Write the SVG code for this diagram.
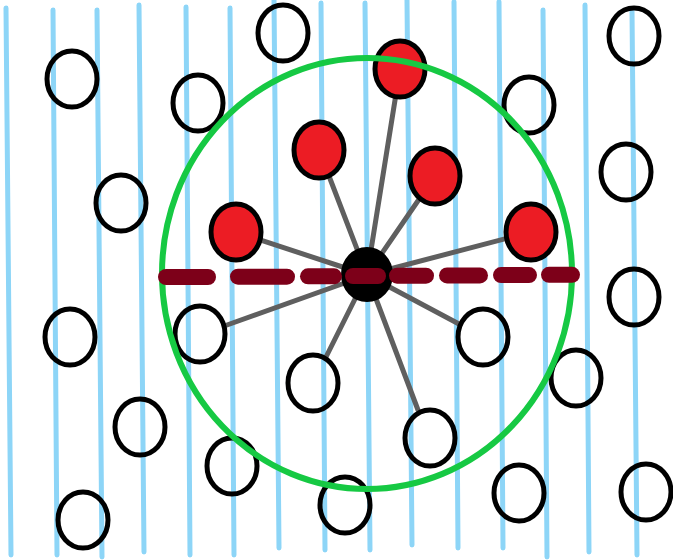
<svg xmlns="http://www.w3.org/2000/svg" width="673" height="560" viewBox="0 0 673 560">
<style>
.bl{stroke:#8dd5f7;stroke-width:5;stroke-linecap:round;fill:none}
.sp{stroke:#5f5f5f;stroke-width:5;stroke-linecap:round;fill:none}
.hc{fill:none;stroke:#000;stroke-width:5}
.rc{fill:#ec1c24;stroke:#000;stroke-width:5}
.dash{stroke:#7d0019;stroke-width:16;stroke-linecap:round;fill:none}
</style>
<rect width="673" height="560" fill="#fff"/>
<g id="field-lines">
<line class="bl" x1="6" y1="8" x2="11" y2="555"/>
<line class="bl" x1="53" y1="10" x2="57" y2="555"/>
<line class="bl" x1="97" y1="10" x2="102" y2="557"/>
<line class="bl" x1="139" y1="5" x2="144" y2="552"/>
<line class="bl" x1="186" y1="7" x2="190" y2="555"/>
<line class="bl" x1="230" y1="8" x2="234" y2="555"/>
<line class="bl" x1="274" y1="0" x2="279" y2="548"/>
<line class="bl" x1="321" y1="3" x2="325" y2="550"/>
<line class="bl" x1="365" y1="3" x2="370" y2="550"/>
<line class="bl" x1="407" y1="0" x2="412" y2="545"/>
<line class="bl" x1="454" y1="2" x2="458" y2="548"/>
<line class="bl" x1="499" y1="2" x2="503" y2="548"/>
<line class="bl" x1="543" y1="10" x2="547" y2="557"/>
<line class="bl" x1="585" y1="5" x2="589" y2="552"/>
<line class="bl" x1="632" y1="10" x2="637" y2="555"/>
</g>
<g id="connectors">
<line class="sp" x1="367" y1="275" x2="400" y2="69"/>
<line class="sp" x1="367" y1="275" x2="319" y2="150"/>
<line class="sp" x1="367" y1="275" x2="435" y2="176"/>
<line class="sp" x1="367" y1="275" x2="531" y2="232"/>
<line class="sp" x1="367" y1="275" x2="236" y2="232"/>
<line class="sp" x1="367" y1="275" x2="227" y2="325"/>
<line class="sp" x1="367" y1="275" x2="326" y2="357"/>
<line class="sp" x1="367" y1="275" x2="459" y2="324"/>
<line class="sp" x1="367" y1="275" x2="418" y2="410"/>
</g>
<g id="hollow-nodes">
<ellipse id="h1" class="hc" cx="72" cy="79" rx="25" ry="28"/>
<ellipse id="h2" class="hc" cx="198" cy="103" rx="25" ry="28"/>
<ellipse id="h3" class="hc" cx="283" cy="33" rx="25" ry="28"/>
<ellipse id="h4" class="hc" cx="121" cy="203" rx="25" ry="28"/>
<ellipse id="h5" class="hc" cx="634" cy="36" rx="25" ry="28"/>
<ellipse id="h6" class="hc" cx="529" cy="105" rx="25" ry="28"/>
<ellipse id="h7" class="hc" cx="626" cy="172" rx="25" ry="28"/>
<ellipse id="h8" class="hc" cx="634" cy="297" rx="25" ry="28"/>
<ellipse id="h9" class="hc" cx="70" cy="337" rx="25" ry="28"/>
<ellipse id="h10" class="hc" cx="140" cy="427" rx="25" ry="28"/>
<ellipse id="h11" class="hc" cx="83" cy="520" rx="25" ry="28"/>
<ellipse id="h12" class="hc" cx="200" cy="334" rx="25" ry="28"/>
<ellipse id="h13" class="hc" cx="232" cy="466" rx="25" ry="28"/>
<ellipse id="h14" class="hc" cx="313" cy="383" rx="25" ry="28"/>
<ellipse id="h15" class="hc" cx="345" cy="505" rx="25" ry="28"/>
<ellipse id="h16" class="hc" cx="483" cy="337" rx="25" ry="28"/>
<ellipse id="h17" class="hc" cx="576" cy="378" rx="25" ry="28"/>
<ellipse id="h18" class="hc" cx="430" cy="438" rx="25" ry="28"/>
<ellipse id="h19" class="hc" cx="519" cy="493" rx="25" ry="28"/>
<ellipse id="h20" class="hc" cx="646" cy="492" rx="25" ry="28"/>
</g>
<g id="red-nodes">
<ellipse id="r1" class="rc" cx="400" cy="69" rx="25" ry="28"/>
<ellipse id="r2" class="rc" cx="319" cy="150" rx="25" ry="28"/>
<ellipse id="r3" class="rc" cx="435" cy="176" rx="25" ry="28"/>
<ellipse id="r4" class="rc" cx="531" cy="232" rx="25" ry="28"/>
<ellipse id="r5" class="rc" cx="236" cy="232" rx="25" ry="28"/>
</g>
<g id="range-circle">
<ellipse cx="367" cy="273.5" rx="205" ry="215.5" fill="none" stroke="#16c943" stroke-width="6"/>
</g>
<g id="center-node">
<ellipse cx="367" cy="274.5" rx="25" ry="26.5" fill="#000" stroke="#000" stroke-width="2"/>
</g>
<g id="dashed-line">
<line class="dash" x1="166" y1="277" x2="208" y2="277"/>
<line class="dash" x1="238" y1="276.7" x2="287" y2="276.7"/>
<line class="dash" x1="308" y1="276.3" x2="334" y2="276.3"/>
<line class="dash" x1="353" y1="276" x2="378" y2="276"/>
<line class="dash" x1="397" y1="275.7" x2="426" y2="275.7"/>
<line class="dash" x1="447" y1="275.4" x2="480" y2="275.4"/>
<line class="dash" x1="501" y1="275.1" x2="529" y2="275.1"/>
<line class="dash" x1="549" y1="274.8" x2="572" y2="274.8"/>
</g>
</svg>
